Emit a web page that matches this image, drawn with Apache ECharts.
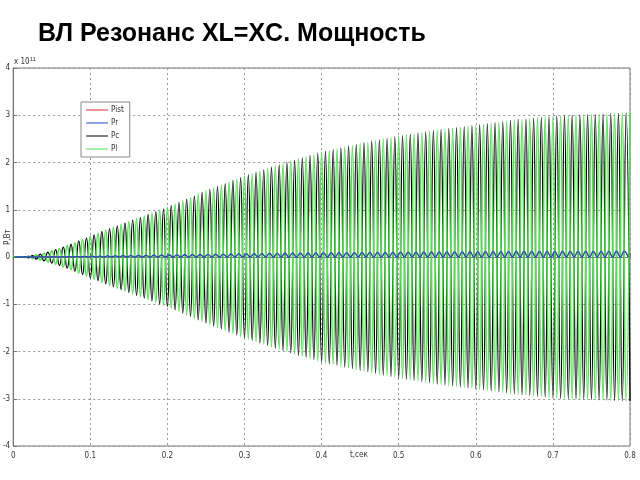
<!DOCTYPE html>
<html><head><meta charset="utf-8">
<script src="https://cdn.jsdelivr.net/npm/echarts@6/dist/echarts.min.js"></script>
<style>html,body{margin:0;padding:0;background:#fff}#c{width:640px;height:480px}</style>
</head><body><div id="c"></div>
<script>
// Sampling step of half-cycles (100 Hz power oscillation), seconds
const step = 0.005;
// Peak magnitude of Pl / Pc at each half-cycle (units of 1e11 W)
const plAmp = [0,0,0.005,0.01,0.02,0.03,0.045,0.06,0.08,0.105,0.13,0.155,0.18,0.21,0.24,0.27,0.30,0.34,0.37,0.40,0.44,
0.47,0.50,0.54,0.57,0.60,0.63,0.66,0.69,0.72,0.75,0.78,0.81,0.84,0.87,0.90,0.93,0.96,0.99,1.02,1.05,
1.085,1.12,1.155,1.19,1.225,1.26,1.295,1.33,1.365,1.40,
1.43,1.46,1.49,1.52,1.555,1.59,1.62,1.65,1.68,1.71,
1.74,1.76,1.79,1.82,1.845,1.87,1.90,1.93,1.95,1.98,
2.00,2.03,2.05,2.08,2.10,2.12,2.15,2.17,2.20,2.22,
2.24,2.26,2.27,2.29,2.31,2.33,2.35,2.36,2.38,2.40,
2.42,2.43,2.45,2.46,2.48,2.50,2.51,2.53,2.54,2.56,
2.57,2.59,2.60,2.61,2.625,2.64,2.65,2.66,2.68,2.69,
2.70,2.71,2.72,2.73,2.74,2.75,2.76,2.77,2.78,2.79,
2.80,2.81,2.82,2.83,2.845,2.855,2.865,2.875,2.89,2.90,
2.91,2.915,2.925,2.93,2.94,2.95,2.955,2.965,2.97,2.98,
2.985,2.99,2.99,2.995,3.00,3.005,3.01,3.01,3.015,3.02,
3.02,3.025,3.03,3.03,3.035,3.04,3.04,3.045,3.045,3.05];
// Peak values of Pr (resistive power) per cycle (units of 1e11 W)
const prPeaks = [0,0,0.001,0.002,0.003,0.005,0.007,0.010,0.012,0.015,
0.018,0.020,0.023,0.025,0.028,0.030,0.032,0.035,0.037,0.040,
0.042,0.045,0.048,0.050,0.053,0.056,0.058,0.061,0.064,0.066,
0.068,0.070,0.073,0.075,0.077,0.079,0.081,0.083,0.085,0.087,
0.089,0.090,0.092,0.093,0.094,0.096,0.097,0.098,0.100,0.101,
0.102,0.104,0.104,0.106,0.106,0.108,0.108,0.109,0.110,0.111,
0.112,0.112,0.113,0.114,0.115,0.116,0.117,0.117,0.118,0.119,
0.119,0.120,0.120,0.120,0.120,0.121,0.121,0.121,0.122,0.122];
const xTicks = [0,0.1,0.2,0.3,0.4,0.5,0.6,0.7,0.8];
const yTicks = [-4,-3,-2,-1,0,1,2,3,4];
const seriesNames = ['Pist','Pr','Pc','Pl'];

const plData = plAmp.map((a,k)=>[+(k*step).toFixed(4), k%2===0 ? a : -a]);
const pcData = plAmp.map((a,k)=>[+(k*step).toFixed(4), k%2===0 ? -a : a]);
const prData = [];
prPeaks.forEach((p,j)=>{
  prData.push([+((2*j)*step+step/2).toFixed(4), p]);
  prData.push([+((2*j+1)*step+step/2).toFixed(4), 0]);
});

const chart = echarts.init(document.getElementById('c'), null, {renderer:'canvas'});
const lab = {fontSize:8, color:'#333', fontFamily:'DejaVu Sans Condensed, Liberation Sans Narrow, Liberation Sans'};
chart.setOption({
  animation:false,
  backgroundColor:'#fff',
  grid:{left:13,right:10,top:68,bottom:34,show:true,borderColor:'#777',borderWidth:1,backgroundColor:'transparent'},
  legend:{
    orient:'vertical', left:81, top:102, data:seriesNames,
    backgroundColor:'#fff', borderColor:'#888', borderWidth:1,
    padding:[4,6,4,5], itemGap:5, itemWidth:22, itemHeight:8,
    icon:'path://M0,4 L22,4 L22,5 L0,5 Z',
    textStyle:Object.assign({},lab,{fontSize:8,padding:[0,0,0,-2]})
  },
  xAxis:{type:'value',min:0,max:0.8,interval:0.1,
    axisLine:{show:true,lineStyle:{color:'#777'}},
    axisTick:{show:true,inside:true,length:4,lineStyle:{color:'#777'}},
    axisLabel:Object.assign({},lab,{margin:6,formatter:v=>String(+v.toFixed(1))}),
    splitLine:{show:true,lineStyle:{color:'#999',type:[2,3],width:1}}},
  yAxis:{type:'value',min:-4,max:4,interval:1,
    axisLine:{show:true,lineStyle:{color:'#777'}},
    axisTick:{show:true,inside:true,length:4,lineStyle:{color:'#777'}},
    axisLabel:Object.assign({},lab,{margin:3}),
    splitLine:{show:true,lineStyle:{color:'#999',type:[2,3],width:1}}},
  series:[
    {name:'Pist',type:'line',data:prData,showSymbol:false,smooth:0.5,lineStyle:{color:'#d03030',width:1},itemStyle:{color:'#d03030'},z:2},
    {name:'Pc',type:'line',data:pcData,showSymbol:false,smooth:0.5,lineStyle:{color:'#000',width:1.3},itemStyle:{color:'#000'},z:3},
    {name:'Pl',type:'line',data:plData,showSymbol:false,smooth:0.5,lineStyle:{color:'#4ee04e',width:1.6},itemStyle:{color:'#4ee04e'},z:4},
    {name:'Pr',type:'line',data:prData,showSymbol:false,smooth:0.5,lineStyle:{color:'#2848c0',width:1.3},itemStyle:{color:'#2848c0'},z:5}
  ],
  graphic:[
    {type:'text',left:38,top:22,style:{text:'ВЛ Резонанс XL=XC. Мощность',font:'bold 25px "Liberation Sans", Arial, sans-serif',fill:'#000'}},
    {type:'text',left:14,top:56,style:{text:'x 10{s|11}',rich:{s:{fontSize:6,verticalAlign:'top',padding:[0,0,6,0]}},fontSize:8,fill:'#333',fontFamily:lab.fontFamily}},
    {type:'text',left:350,top:451,style:{text:'t,сек',fontSize:8,fill:'#333',fontFamily:lab.fontFamily}},
    {type:'text',x:4,y:245,rotation:Math.PI/2,style:{text:'P,Вт',fontSize:8,fill:'#333',fontFamily:lab.fontFamily}}
  ]
});
</script></body></html>
